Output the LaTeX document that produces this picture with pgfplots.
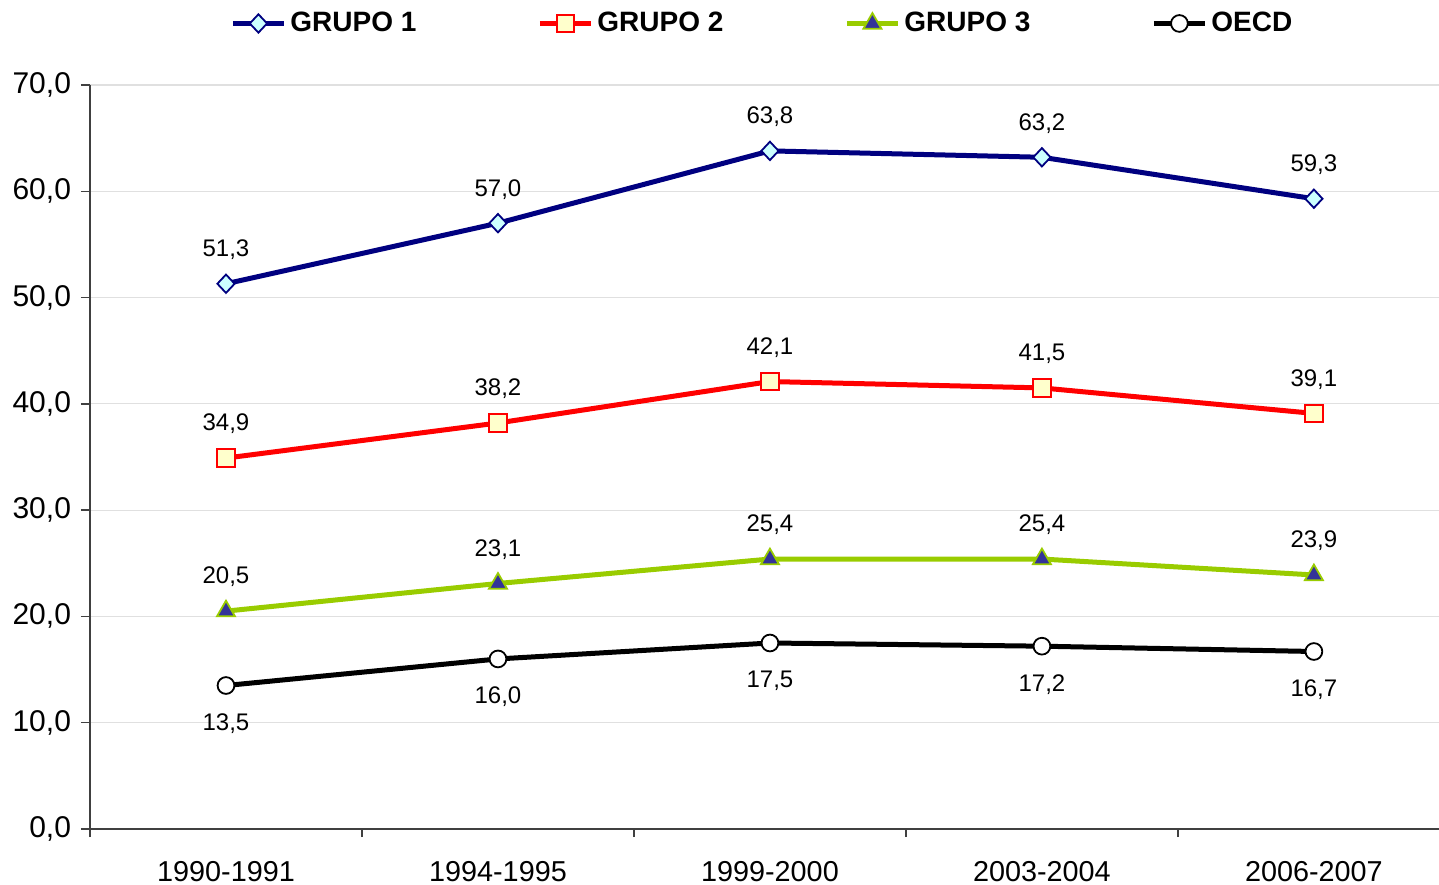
\documentclass[border=0pt]{standalone}
\usepackage{pgfplots}
\pgfplotsset{compat=1.18}
\usepackage{fontspec}
\setmainfont{Liberation Sans}
\definecolor{gnavy}{HTML}{000080}
\definecolor{gcyan}{HTML}{CCFFFF}
\definecolor{gred}{HTML}{FF0000}
\definecolor{gyel}{HTML}{FFFFCC}
\definecolor{ggreen}{HTML}{99CC00}
\definecolor{gtri}{HTML}{333399}
\definecolor{axgray}{HTML}{404040}

\begin{document}
\begin{tikzpicture}
\path[use as bounding box] (-45bp,-28bp) rectangle (674.5bp,414.5bp);
\begin{axis}[
  at={(0,0)}, anchor=south west,
  scale only axis, width=674.5bp, height=372bp,
  xmin=-0.5, xmax=4.46, ymin=0, ymax=70,
  xtick={0,...,4},
  xticklabels={1990-1991,1994-1995,1999-2000,2003-2004,2006-2007},
  minor xtick={-0.5,0.5,1.5,2.5,3.5},
  ytick={0,10,...,70},
  tick align=outside, xtick pos=bottom, ytick pos=left,
  major tick length=4.5bp, minor tick length=4bp,
  major x tick style={draw=none},
  minor x tick style={axgray, line width=0.75bp},
  major y tick style={axgray, line width=0.75bp},
  axis x line*=bottom, axis y line*=left,
  axis line style={-, axgray, line width=0.75bp},
  ymajorgrids, grid style={black!12, line width=0.6bp},
  yticklabel style={font=\fontsize{15bp}{17bp}\selectfont, xshift=-1.5bp,
    /pgf/number format/.cd, fixed, fixed zerofill, precision=1, use comma, assume math mode=true},
  xticklabel style={font=\fontsize{14.4bp}{17bp}\selectfont, yshift=-8bp},
  nodes near coords={\pgfmathprintnumber[fixed,fixed zerofill,precision=1,use comma,assume math mode=true]{\pgfplotspointmeta}},
  every node near coord/.append style={font=\fontsize{12bp}{14bp}\selectfont, text=black, anchor=center, yshift=17bp},
  legend columns=4,
  legend style={draw=none, fill=none, inner sep=0pt, at={(0.1038,1.0827)}, anchor=west,
    font=\bfseries\fontsize{14bp}{16bp}\selectfont,
    /tikz/every even column/.append style={column sep=58.5bp}},
  legend image code/.code={\draw[mark repeat=2,mark phase=2] plot coordinates {(0bp,0bp)(12.75bp,0bp)(25.5bp,0bp)};},
]
\addplot[gnavy, line width=2.5bp, mark=diamond*, mark size=4.6bp,
  mark options={solid, fill=gcyan, draw=gnavy, line width=0.9bp, xscale=1.25}]
  coordinates {(0,51.3) (1,57.0) (2,63.8) (3,63.2) (4,59.3)};
\addlegendentry{GRUPO 1}
\addplot[gred, line width=2.5bp, mark=square*, mark size=4.4bp,
  mark options={solid, fill=gyel, draw=gred, line width=0.9bp}]
  coordinates {(0,34.9) (1,38.2) (2,42.1) (3,41.5) (4,39.1)};
\addlegendentry{GRUPO 2}
\addplot[ggreen, line width=2.5bp, mark=triangle*, mark size=5.2bp,
  mark options={solid, fill=gtri, draw=ggreen, line width=0.9bp}]
  coordinates {(0,20.5) (1,23.1) (2,25.4) (3,25.4) (4,23.9)};
\addlegendentry{GRUPO 3}
\addplot[black, line width=2.5bp, mark=*, mark size=4.2bp,
  mark options={solid, fill=white, draw=black, line width=0.9bp},
  every node near coord/.append style={yshift=-36bp}]
  coordinates {(0,13.5) (1,16.0) (2,17.5) (3,17.2) (4,16.7)};
\addlegendentry{OECD}
\end{axis}
\end{tikzpicture}
\end{document}
